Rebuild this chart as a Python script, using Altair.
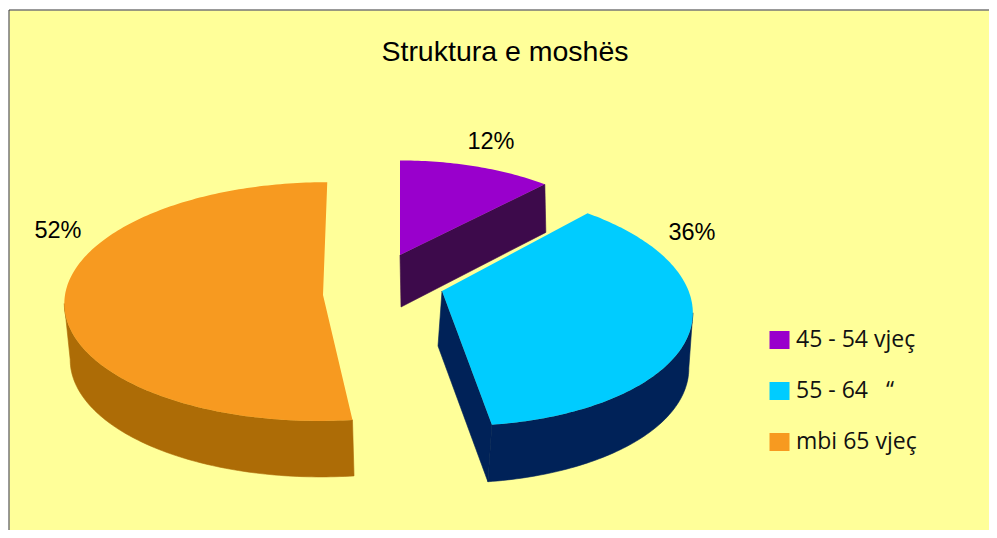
import math
import altair as alt

# ---- chart values ----
categories = ["45 - 54 vjeç", "55 - 64\u00a0\u00a0\u00a0“", "mbi 65 vjeç"]
shares = [12, 36, 52]
chart_title = "Struktura e moshës"

# ---- styles ----
top_colors = ["#9900CC", "#00CCFF", "#F79A20"]
side_colors = ["#3D0A4B", "#002258", "#AD6C06"]
background = "#FFFF99"
frame_color = "#333333"

# ---- 3D pie layout: perspective model of each exploded slice (page pixels) ----
# apex, radii, far-side shrink k, shear; depth offset and scale; label offset from apex
layout = [
    dict(ax=400, ay=255, rx=227, ry=104, k=0.10, sh=0, dx=1, dy=52, sx=1.0, sy=1.056, lx=91, ly=-113, cut=True),
    dict(ax=442, ay=291, rx=246.6, ry=117, k=0.133, sh=-12.5, dx=-4, dy=55, sx=1.0, sy=1.015, lx=250, ly=-58, cut=True),
    dict(ax=323, ay=295, rx=258, ry=119, k=0.055, sh=4.5, dx=2, dy=56, sx=0.985, sy=1.0, lx=-265, ly=-64, cut=False),
]


def rim(p, deg):
    t = math.radians(deg)
    X, Y = math.sin(t), math.cos(t)
    w = 1 + p["k"] * Y
    return (p["rx"] * X + p["sh"] * Y) / w, -p["ry"] * Y / w


def page(p, q):
    return [p["ax"] + q[0], p["ay"] + q[1]]


def lower(p, q):
    return [p["ax"] + p["sx"] * q[0] + p["dx"], p["ay"] + p["sy"] * q[1] + p["dy"]]


def feature(ring, **props):
    return {"type": "Feature", "properties": props,
            "geometry": {"type": "Polygon", "coordinates": [ring + [ring[0]]]}}


def visible_rim(arc):
    """The part of the rim that shows a wall: from its side extreme to its near end."""
    xs = [q[0] for q in arc]
    ys = [q[1] for q in arc]
    if max(ys) <= 0:
        return []
    if sum(xs) > 0:
        return arc[xs.index(max(xs)):]
    return arc[: xs.index(min(xs)) + 1]


top_features, side_features, label_rows = [], [], []
start = 0.0
total = sum(shares)
for cat, share, p, side in zip(categories, shares, layout, side_colors):
    sweep = 360.0 * share / total
    n = max(8, int(sweep))
    arc = [rim(p, start + sweep * i / n) for i in range(n + 1)]
    top_features.append(feature([page(p, q) for q in [(0.0, 0.0)] + arc], category=cat))
    wall = visible_rim(arc)
    if wall:
        side_features.append(feature([page(p, q) for q in wall] + [lower(p, q) for q in reversed(wall)], side=side))
    if p["cut"]:
        a, b = arc[-1], (0.0, 0.0)
        side_features.append(feature([page(p, a), page(p, b), lower(p, b), lower(p, a)], side=side))
    label_rows.append({"lon": p["ax"] + p["lx"], "lat": p["ay"] + p["ly"], "label": f"{share}%"})
    start += sweep

# the view begins at page pixel (9, 10): body margin 8 plus padding
PAD_L, PAD_T = 1, 2
VIEW_W, VIEW_H = 980, 520
proj = dict(type="identity", scale=1, translate=[-(8 + PAD_L), -(8 + PAD_T)])

sides = (
    alt.Chart(alt.Data(values=side_features))
    .mark_geoshape(filled=True, strokeWidth=0.6, opacity=1)
    .encode(
        fill=alt.Fill("properties.side:N", scale=None, legend=None),
        stroke=alt.Stroke("properties.side:N", scale=None, legend=None),
    )
    .project(**proj)
)

tops = (
    alt.Chart(alt.Data(values=top_features))
    .mark_geoshape(filled=True, strokeWidth=0, opacity=1)
    .encode(
        color=alt.Color(
            "properties.category:N",
            scale=alt.Scale(domain=categories, range=top_colors),
            sort=categories,
            legend=alt.Legend(
                title=None,
                orient="none",
                legendX=759,
                legendY=318.5,
                symbolType="M-1,-0.9H1V0.9H-1Z",
                symbolSize=400,
                symbolStrokeWidth=0,
                symbolOpacity=1,
                labelFont="Open Sans",
                labelFontSize=23,
                labelColor="#111111",
                labelOffset=5,
                labelLimit=220,
                rowPadding=27,
                padding=0,
            ),
        ),
    )
    .project(**proj)
)

labels = (
    alt.Chart(alt.Data(values=label_rows))
    .mark_text(font="Liberation Sans", fontSize=23.5, color="#000000", align="center", baseline="middle")
    .encode(longitude="lon:Q", latitude="lat:Q", text="label:N")
    .project(**proj)
)

# frame: only the top and left edges show in the reference
frame_top = alt.Chart().mark_rule(color=frame_color, strokeWidth=1).encode(
    x=alt.value(0), x2=alt.value(VIEW_W), y=alt.value(0)
)
frame_left = alt.Chart().mark_rule(color=frame_color, strokeWidth=1).encode(
    x=alt.value(0), y=alt.value(0), y2=alt.value(VIEW_H)
)

chart = (
    alt.layer(sides, tops, labels, frame_top, frame_left)
    .properties(
        width=VIEW_W,
        height=VIEW_H,
        padding={"left": PAD_L, "top": PAD_T, "right": 0, "bottom": 0},
        autosize=alt.AutoSizeParams(type="none"),
        view=alt.ViewBackground(fill=background, stroke="transparent"),
        title=alt.TitleParams(
            chart_title,
            font="Liberation Sans",
            fontSize=28.5,
            fontWeight="normal",
            color="#000000",
            anchor="middle",
            dx=6,
            dy=61,
        ),
    )
)

chart.save("out.html", embed_options={"renderer": "svg", "actions": False})
